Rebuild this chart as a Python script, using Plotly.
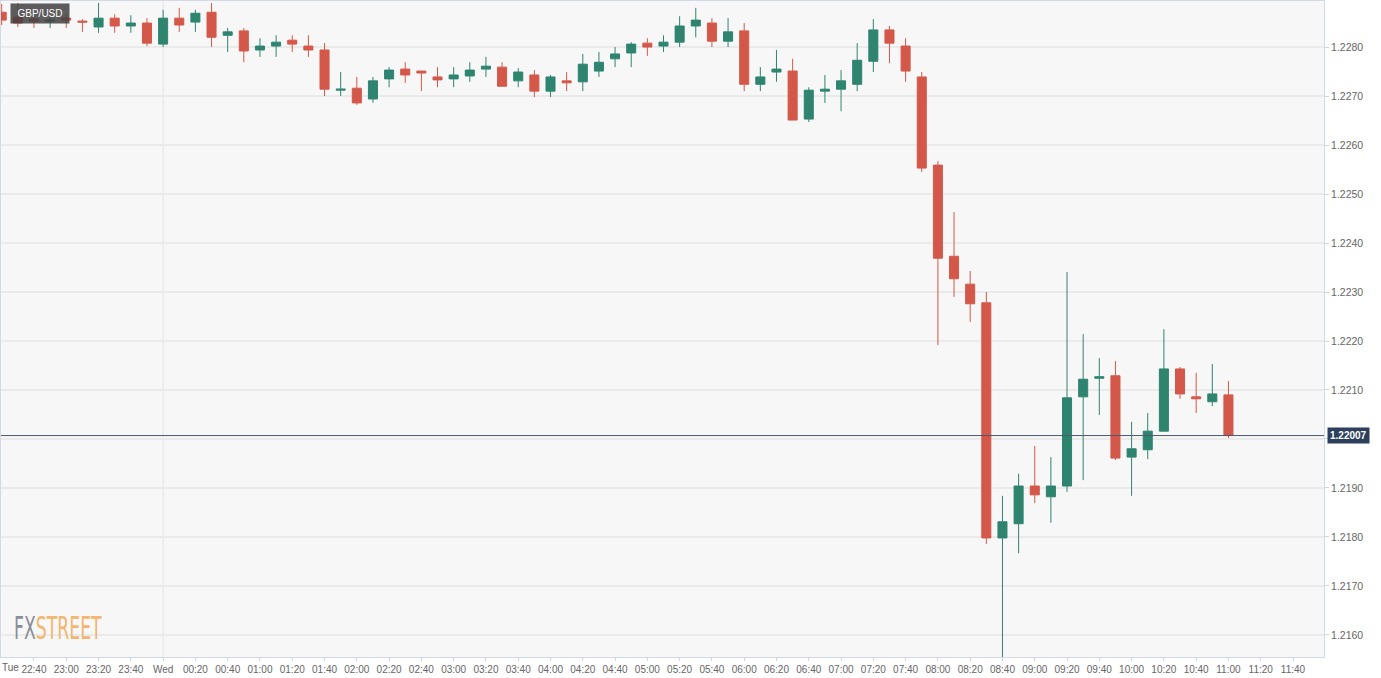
import pandas as pd
import plotly.graph_objects as go

# ---- data (10-minute GBP/USD candles, Tue 22:20 -> Wed 11:00) ----
start_time = "2020-12-01 22:20"
n_bars = 77
times = pd.date_range(start_time, periods=n_bars, freq="10min")

opens = [
    1.22871, 1.22861, 1.22857, 1.22853, 1.22859, 1.22853, 1.22841, 1.22859, 1.22843, 1.22849,
    1.22806, 1.22859, 1.22851, 1.22871, 1.22824, 1.22833, 1.22794, 1.22802, 1.22814, 1.22802,
    1.22794, 1.22712, 1.22716, 1.22694, 1.22735, 1.22755, 1.22751, 1.22739, 1.22735, 1.22741,
    1.22755, 1.22759, 1.22731, 1.22743, 1.22710, 1.22731, 1.22729, 1.22751, 1.22776, 1.22788,
    1.22808, 1.22802, 1.22810, 1.22843, 1.22849, 1.22812, 1.22833, 1.22724, 1.22749, 1.22751,
    1.22653, 1.22710, 1.22714, 1.22724, 1.22771, 1.22835, 1.22802, 1.22739, 1.22559, 1.22373,
    1.22316, 1.22278, 1.21798, 1.21827, 1.21904, 1.21882, 1.21904, 1.22086, 1.22124, 1.22129,
    1.21963, 1.21978, 1.22016, 1.22143, 1.22086, 1.22076, 1.22090,
]
highs = [
    1.22888, 1.22890, 1.22865, 1.22861, 1.22867, 1.22857, 1.22890, 1.22867, 1.22865, 1.22859,
    1.22876, 1.22880, 1.22876, 1.22890, 1.22839, 1.22839, 1.22818, 1.22824, 1.22824, 1.22824,
    1.22808, 1.22749, 1.22739, 1.22739, 1.22759, 1.22769, 1.22751, 1.22759, 1.22759, 1.22769,
    1.22780, 1.22769, 1.22757, 1.22753, 1.22743, 1.22749, 1.22786, 1.22790, 1.22800, 1.22810,
    1.22818, 1.22824, 1.22863, 1.22880, 1.22859, 1.22859, 1.22849, 1.22759, 1.22794, 1.22776,
    1.22718, 1.22743, 1.22753, 1.22808, 1.22857, 1.22843, 1.22818, 1.22749, 1.22567, 1.22463,
    1.22343, 1.22300, 1.21884, 1.21929, 1.21986, 1.21963, 1.22341, 1.22214, 1.22165, 1.22159,
    1.22035, 1.22053, 1.22224, 1.22147, 1.22135, 1.22153, 1.22118,
]
lows = [
    1.22845, 1.22841, 1.22839, 1.22839, 1.22839, 1.22831, 1.22829, 1.22829, 1.22829, 1.22802,
    1.22800, 1.22831, 1.22831, 1.22800, 1.22790, 1.22769, 1.22780, 1.22780, 1.22790, 1.22780,
    1.22700, 1.22700, 1.22682, 1.22686, 1.22718, 1.22727, 1.22710, 1.22718, 1.22718, 1.22729,
    1.22739, 1.22720, 1.22718, 1.22698, 1.22698, 1.22710, 1.22710, 1.22739, 1.22759, 1.22759,
    1.22782, 1.22790, 1.22800, 1.22820, 1.22800, 1.22800, 1.22710, 1.22710, 1.22729, 1.22651,
    1.22647, 1.22686, 1.22669, 1.22710, 1.22749, 1.22767, 1.22729, 1.22545, 1.22192, 1.22290,
    1.22239, 1.21786, 1.21540, 1.21767, 1.21869, 1.21829, 1.21892, 1.21916, 1.22049, 1.21957,
    1.21884, 1.21959, 1.22016, 1.22082, 1.22053, 1.22067, 1.22002,
]
closes = [
    1.22855, 1.22849, 1.22853, 1.22855, 1.22855, 1.22851, 1.22859, 1.22843, 1.22849, 1.22808,
    1.22859, 1.22845, 1.22869, 1.22820, 1.22831, 1.22792, 1.22802, 1.22810, 1.22806, 1.22794,
    1.22714, 1.22714, 1.22686, 1.22731, 1.22753, 1.22743, 1.22747, 1.22733, 1.22743, 1.22753,
    1.22761, 1.22720, 1.22749, 1.22710, 1.22739, 1.22727, 1.22765, 1.22769, 1.22786, 1.22806,
    1.22800, 1.22810, 1.22843, 1.22855, 1.22812, 1.22831, 1.22724, 1.22739, 1.22755, 1.22651,
    1.22712, 1.22714, 1.22731, 1.22773, 1.22835, 1.22808, 1.22751, 1.22553, 1.22369, 1.22327,
    1.22276, 1.21798, 1.21831, 1.21904, 1.21886, 1.21904, 1.22084, 1.22122, 1.22127, 1.21961,
    1.21980, 1.22016, 1.22143, 1.22092, 1.22082, 1.22092, 1.22007,
]

last_price = 1.22007
y_ticks = [1.2160, 1.2170, 1.2180, 1.2190, 1.2200, 1.2210, 1.2220, 1.2230,
           1.2240, 1.2250, 1.2260, 1.2270, 1.2280]
# the 1.2200 label sits under the last-price tag in the reference
y_tick_text = ["" if abs(v - 1.2200) < 1e-9 else f"{v:.4f}" for v in y_ticks]
x_tick_times = pd.date_range("2020-12-01 22:40", "2020-12-02 11:40", freq="20min")
x_tick_text = ["Wed" if (t.hour == 0 and t.minute == 0) else t.strftime("%H:%M")
               for t in x_tick_times]

GREEN = "#2f8470"
RED = "#d4584a"
TICKFONT = "Liberation Sans Narrow, Arial Narrow, Liberation Sans, Arial, sans-serif"

fig = go.Figure()
fig.add_trace(go.Candlestick(
    x=times, open=opens, high=highs, low=lows, close=closes,
    increasing=dict(line=dict(color=GREEN, width=1), fillcolor=GREEN),
    decreasing=dict(line=dict(color=RED, width=1), fillcolor=RED),
    whiskerwidth=0, showlegend=False, hoverinfo="skip",
))

# vertical day separator (Wed)
fig.add_shape(type="line", xref="x", yref="paper",
              x0="2020-12-02 00:00", x1="2020-12-02 00:00", y0=0, y1=1,
              line=dict(color="#e4e4e4", width=1), layer="below")
# last price line
fig.add_shape(type="line", xref="paper", yref="y", x0=0, x1=1,
              y0=last_price, y1=last_price,
              line=dict(color="#4a5a72", width=1), layer="above")

fig.update_layout(
    width=1381, height=678,
    margin=dict(l=1, r=57, t=1, b=21),
    paper_bgcolor="#ffffff",
    plot_bgcolor="#f7f7f7",
    boxgap=0.2,
    font=dict(family=TICKFONT, color="#666666"),
    xaxis=dict(
        type="date",
        range=["2020-12-01 22:19:34", "2020-12-02 11:59:12"],
        rangeslider=dict(visible=False),
        tickvals=list(x_tick_times), ticktext=x_tick_text,
        tickangle=0,
        tickfont=dict(size=10, color="#666666", family=TICKFONT),
        ticks="outside", ticklen=3, tickcolor="#cfd5e2",
        showgrid=False, zeroline=False,
        showline=True, mirror=True, linecolor="#d3d9e6", linewidth=1,
    ),
    yaxis=dict(
        side="right",
        range=[1.21555, 1.22894],
        tickvals=y_ticks, ticktext=y_tick_text,
        tickfont=dict(size=10.5, color="#666666", family=TICKFONT),
        ticks="outside", ticklen=4, tickcolor="#cfd5e2",
        showgrid=True, gridcolor="#eaeaea", gridwidth=1.5,
        zeroline=False,
        showline=True, mirror=True, linecolor="#d3d9e6", linewidth=1,
    ),
    annotations=[
        dict(xref="paper", yref="paper", x=0.0068, y=0.997,
             xanchor="left", yanchor="top", text="GBP/USD",
             showarrow=False, bgcolor="rgba(65,65,65,0.85)",
             font=dict(color="#ffffff", size=10, family="Liberation Sans, Arial, sans-serif"),
             width=52, height=13, borderpad=3),
        dict(xref="paper", yref="y", x=1.0025, y=last_price,
             xanchor="left", yanchor="middle", text="<b>1.22007</b>",
             showarrow=False, bgcolor="#2c3f5d",
             font=dict(color="#ffffff", size=10, family=TICKFONT),
             borderpad=2),
        dict(xref="paper", yref="paper", x=-0.0005, y=-0.0155,
             xanchor="left", yanchor="middle", text="Tue",
             showarrow=False,
             font=dict(color="#666666", size=10, family=TICKFONT)),
        dict(xref="paper", yref="paper", x=0.0083, y=0.012,
             xanchor="left", yanchor="bottom",
             text="<span style='color:#8b8e97'>FX</span><span style='color:#f2b66f'>STREET</span>",
             showarrow=False,
             font=dict(size=32, family="DejaVu Sans Condensed, Liberation Sans Narrow, sans-serif")),
    ],
)

post_js = """
document.body.style.margin='0';
document.body.style.overflow='hidden';
document.querySelectorAll('.annotation-text').forEach(function(el){
  if (el.textContent === 'FXSTREET') {
    el.style.transformBox = 'fill-box';
    el.style.transformOrigin = 'left bottom';
    el.style.transform = 'scaleX(0.6)';
  }
});
"""

fig.write_html("out.html", post_script=post_js, config={"displayModeBar": False})
